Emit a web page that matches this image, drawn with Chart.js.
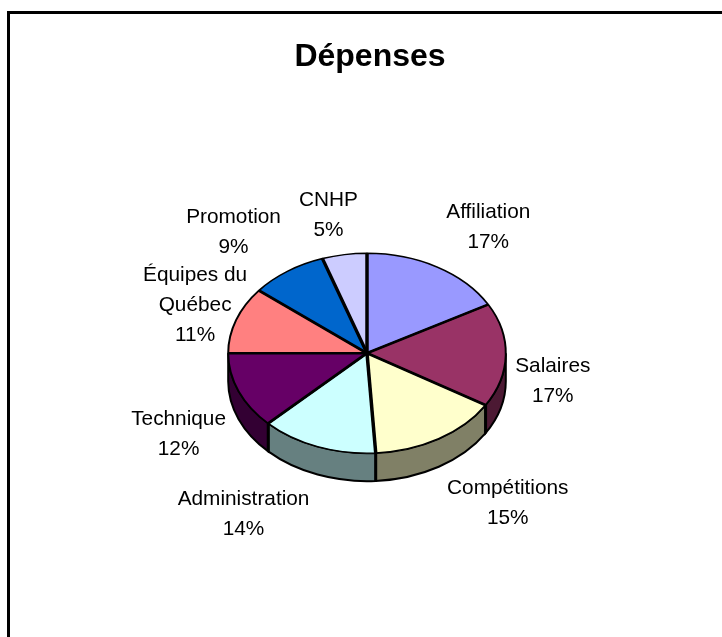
<!DOCTYPE html>
<html>
<head>
<meta charset="utf-8">
<style>
  html, body { margin: 0; padding: 0; background: #fff; overflow: hidden; }
  #frame { position: absolute; left: 7px; top: 11px; right: 0; bottom: 0; border-left: 3px solid #000; border-top: 3px solid #000; }
  #pie { position: absolute; left: 0; top: 0; }
</style>
<script src="https://cdn.jsdelivr.net/npm/chart.js@4"></script>
</head>
<body>
<div id="frame"></div>
<canvas id="pie" width="722" height="637"></canvas>
<script>
const titleText = 'Dépenses';
const categories = ['Affiliation', 'Salaires', 'Compétitions', 'Administration', 'Technique', ['Équipes du', 'Québec'], 'Promotion', 'CNHP'];
const values = [16.9, 16.8, 15.3, 13.6, 12.4, 10.8, 9.0, 5.2];
const colors = ['#9999FF', '#993366', '#FFFFCC', '#CCFFFF', '#660066', '#FF8080', '#0066CC', '#CCCCFF'];
const wallColors = ['#4C4C80', '#4C1933', '#808066', '#668080', '#330033', '#804040', '#003366', '#666680'];

// label centre, relative to the middle of the slice's outer edge
const labelOffsetX = [51, 47, 69, -74, -60, -41, -54, -16];
const labelOffsetY = [-40, 26, 65, 68, 43, -15, -39, -39];

const squash = 0.72;  // tilt of the pie
const depth = 28;

const pie3d = {
  id: 'pie3d',
  beforeDatasetsDraw(chart) {
    const ctx = chart.ctx;
    const arcs = chart.getDatasetMeta(0).data;
    const cx = arcs[0].x, cy = arcs[0].y;
    const rx = arcs[0].outerRadius, ry = rx * squash;

    // side wall, only the front half can be seen
    arcs.forEach((arc, i) => {
      const a0 = Math.max(arc.startAngle, 0);
      const a1 = Math.min(arc.endAngle, Math.PI);
      if (a1 <= a0) return;
      ctx.beginPath();
      ctx.ellipse(cx, cy, rx, ry, 0, a0, a1);
      ctx.ellipse(cx, cy + depth, rx, ry, 0, a1, a0, true);
      ctx.closePath();
      ctx.fillStyle = wallColors[i];
      ctx.fill();
      ctx.lineWidth = 2;
      ctx.strokeStyle = '#000';
      ctx.stroke();
      // thicker edge where two slices meet
      if (arc.startAngle > 0) {
        const x = cx + rx * Math.cos(a0), y = cy + ry * Math.sin(a0);
        ctx.beginPath();
        ctx.moveTo(x, y);
        ctx.lineTo(x, y + depth);
        ctx.lineWidth = 3;
        ctx.stroke();
      }
    });

    ctx.save();
    ctx.translate(cx, cy);
    ctx.scale(1, squash);
    ctx.translate(-cx, -cy);
  },
  afterDatasetsDraw(chart) {
    const ctx = chart.ctx;
    const arcs = chart.getDatasetMeta(0).data;
    const cx = arcs[0].x, cy = arcs[0].y;
    const rx = arcs[0].outerRadius, ry = rx * squash;

    // slice edges, still in the squashed space
    ctx.strokeStyle = '#000';
    ctx.lineWidth = 3.5;
    arcs.forEach(arc => {
      ctx.beginPath();
      ctx.moveTo(cx, cy);
      ctx.lineTo(cx + rx * Math.cos(arc.startAngle), cy + rx * Math.sin(arc.startAngle));
      ctx.stroke();
    });
    ctx.restore();

    ctx.fillStyle = '#000';
    ctx.font = '20.8px "Liberation Sans"';
    ctx.textAlign = 'center';
    ctx.textBaseline = 'middle';
    arcs.forEach((arc, i) => {
      const mid = (arc.startAngle + arc.endAngle) / 2;
      const x = cx + rx * Math.cos(mid) + labelOffsetX[i];
      const y = cy + ry * Math.sin(mid) + labelOffsetY[i];
      const lines = [].concat(categories[i], Math.round(values[i]) + '%');
      lines.forEach((line, n) => {
        ctx.fillText(line, x, y + (n - (lines.length - 1) / 2) * 30);
      });
    });
  },
  afterLayout(chart) {
    // title sits a little right of the pie centre
    chart.titleBlock.left += 3;
    chart.titleBlock.right += 3;
  }
};

new Chart(document.getElementById('pie'), {
  type: 'pie',
  data: {
    labels: categories,
    datasets: [{
      data: values,
      backgroundColor: colors,
      borderColor: '#000',
      borderWidth: 2,
      clip: false
    }]
  },
  plugins: [pie3d],
  options: {
    responsive: false,
    animation: false,
    layout: { padding: { left: 227, right: 215, top: 38, bottom: 144 } },
    plugins: {
      legend: { display: false },
      tooltip: { enabled: false },
      title: {
        display: true,
        text: titleText,
        color: '#000',
        font: { family: '"Liberation Sans"', size: 32, weight: 'bold' },
        padding: { top: 0, bottom: 137 }
      }
    }
  }
});
</script>
</body>
</html>
